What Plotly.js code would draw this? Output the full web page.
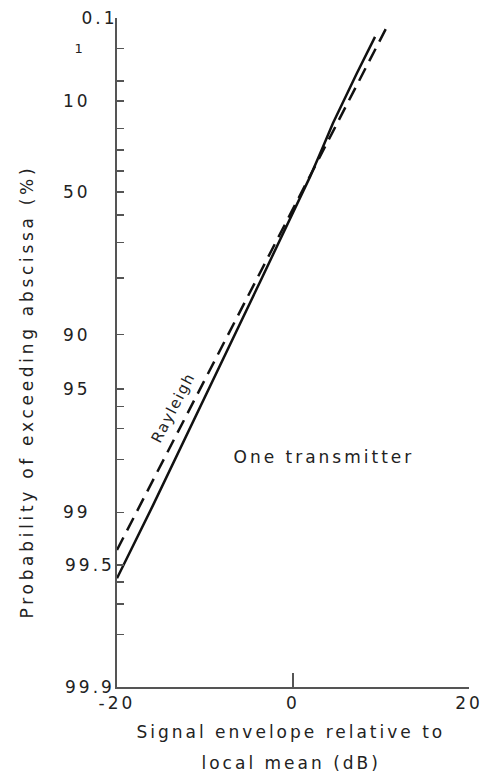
<!DOCTYPE html>
<html><head><meta charset="utf-8">
<script src="https://cdn.plot.ly/plotly-3.0.1.min.js"></script>
<style>
html,body{margin:0;padding:0;background:#fff;}
#chart{width:495px;height:774px;}
.js-plotly-plot .main-svg text{letter-spacing:3px;}
.js-plotly-plot .main-svg text[data-unformatted="Rayleigh"]{letter-spacing:1.5px;}
.js-plotly-plot .main-svg text[data-unformatted="Probability of exceeding abscissa (%)"]{letter-spacing:3.7px;}
</style></head><body><div id="chart"></div>
<script>
// Signal envelope relative to local mean (dB) and probability of exceeding it (%)
const envelopeOneTx = [-20, -15.9, -3.75, -2.6, -1.25, 0, 1.93, 3.41, 4.55, 7.27, 9.32];
const probOneTx     = [99.58, 98.90, 80.96, 75.67, 67.85, 59.1, 42.9, 28.4, 17.8, 3.54, 0.46];
const envelopeRayleigh = [-20, -3.75, 10.9];
const probRayleigh     = [99.39, 78.8, 0.155];

const yLabelVals  = [0.1, 1, 10, 50, 90, 95, 99, 99.5, 99.9];
const yTickLabels = ['0.1', '1', '10', '50', '90', '95', '99', '99.5', '99.9'];
const yTickVals   = [0.1, 1, 5, 10, 20, 30, 40, 50, 60, 70, 80, 90, 95, 96, 97, 98, 99, 99.5, 99.6, 99.7, 99.8, 99.9];
const xTickVals   = [-20, 0, 20];
const xTickLabels = ['-20', '0', '20'];

// Rayleigh probability scale: position is linear in log10(-ln p)
function ray(pct){ return Math.log10(-Math.log(pct / 100)); }

const W = 495, H = 774, L = 117, R = 26, T = 18, B = 87;
const PW = W - L - R, PH = H - T - B;
const px = x => (x - L) / PW;
const py = y => (H - B - y) / PH;

const FONT = 'DejaVu Sans';
const TXT = '#222';
const INK = '#111';
const AX = '#555';

const traces = [
  {x: envelopeOneTx, y: probOneTx.map(ray), mode: 'lines', name: 'One transmitter',
   line: {color: INK, width: 2.5}, hoverinfo: 'skip'},
  {x: envelopeRayleigh, y: probRayleigh.map(ray), mode: 'lines', name: 'Rayleigh',
   line: {color: INK, width: 2.5, dash: '14px,8px'}, hoverinfo: 'skip'}
];

const annotations = [];
yLabelVals.forEach((v, i) => {
  const t = yTickLabels[i];
  let right = t.indexOf('.') >= 0 ? 111 : 90;
  if (t === '0.1') right = 115;
  let size = 17;
  if (t === '1') { right = 86; size = 13; }
  annotations.push({xref: 'paper', yref: 'y', x: px(right), y: ray(v), text: t,
    showarrow: false, xanchor: 'right', yanchor: 'middle',
    font: {family: FONT, size: size, color: TXT}});
});
annotations.push({xref: 'paper', yref: 'paper', x: px(27), y: py(392),
  text: 'Probability of exceeding abscissa (%)', showarrow: false, textangle: -90,
  xanchor: 'center', yanchor: 'middle',
  font: {family: FONT, size: 17, color: TXT}});
annotations.push({xref: 'paper', yref: 'paper', x: px(291), y: py(732),
  text: 'Signal envelope relative to', showarrow: false, xanchor: 'center', yanchor: 'middle',
  font: {family: FONT, size: 17, color: TXT}});
annotations.push({xref: 'paper', yref: 'paper', x: px(291), y: py(763),
  text: 'local mean (dB)', showarrow: false, xanchor: 'center', yanchor: 'middle',
  font: {family: FONT, size: 17, color: TXT}});
annotations.push({xref: 'paper', yref: 'paper', x: px(324), y: py(457),
  text: 'One transmitter', showarrow: false, xanchor: 'center', yanchor: 'middle',
  font: {family: FONT, size: 17, color: TXT}});
annotations.push({xref: 'paper', yref: 'paper', x: px(173), y: py(408),
  text: 'Rayleigh', showarrow: false, xanchor: 'center', yanchor: 'middle', textangle: -62.7,
  font: {family: FONT, size: 15, color: TXT}});

const layout = {
  width: W, height: H,
  margin: {l: L, r: R, t: T, b: B, pad: 0},
  paper_bgcolor: '#fff', plot_bgcolor: '#fff',
  showlegend: false,
  font: {family: FONT, color: TXT},
  xaxis: {
    range: [-20, 20], tickmode: 'array', tickvals: xTickVals, ticktext: xTickLabels,
    ticks: 'inside', ticklen: 14, tickwidth: 1.8, tickcolor: AX,
    showline: true, linecolor: AX, linewidth: 1.8, showgrid: false, zeroline: false,
    tickfont: {family: FONT, size: 17, color: TXT}, fixedrange: true, automargin: false
  },
  yaxis: {
    range: [ray(99.9), ray(0.1)], tickmode: 'array', tickvals: yTickVals.map(ray),
    ticktext: yTickVals.map(() => ''), showticklabels: false,
    ticks: 'inside', ticklen: 7, tickwidth: 1.5, tickcolor: AX,
    showline: true, linecolor: AX, linewidth: 1.8, showgrid: false, zeroline: false,
    fixedrange: true, automargin: false
  },
  annotations: annotations
};

Plotly.newPlot('chart', traces, layout, {displayModeBar: false, staticPlot: true});
</script></body></html>
